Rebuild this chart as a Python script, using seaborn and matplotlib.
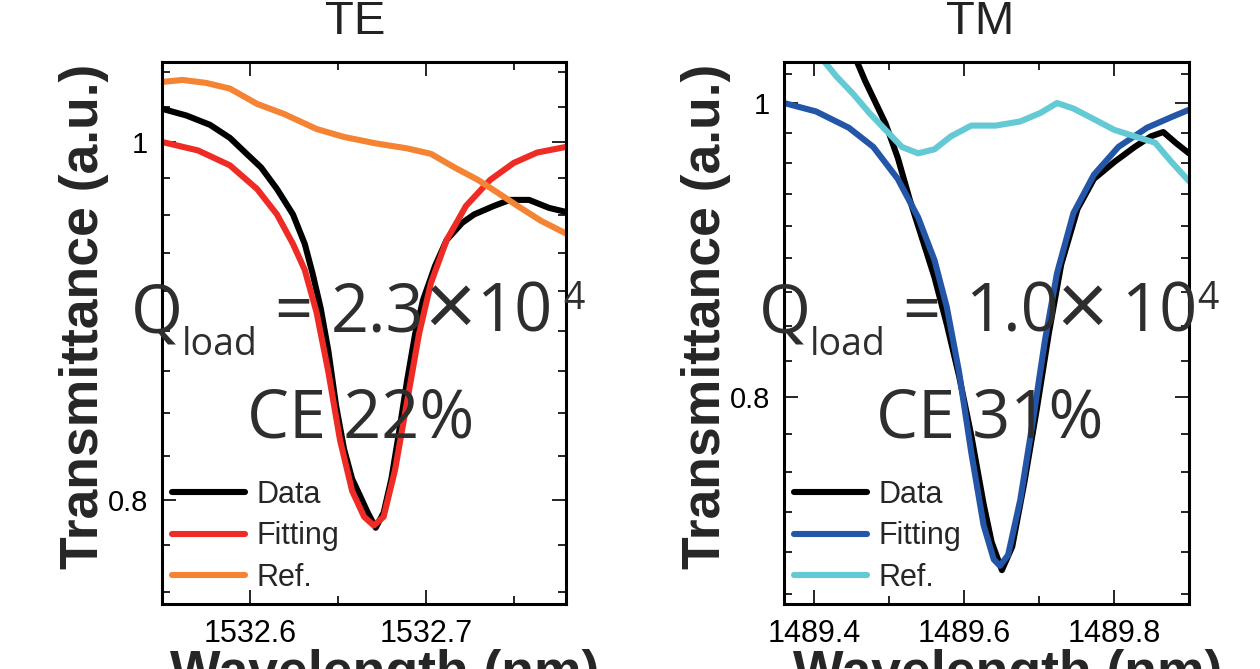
import matplotlib
matplotlib.use("Agg")
import matplotlib.pyplot as plt
import seaborn as sns
from matplotlib.ticker import FixedLocator, FixedFormatter, NullFormatter

# ---------------- data ----------------
te_wl_data = [1532.5500, 1532.5639, 1532.5773, 1532.5886, 1532.5975, 1532.6063, 1532.6153,
              1532.6244, 1532.6311, 1532.6356, 1532.6401, 1532.6445, 1532.6489, 1532.6534,
              1532.6580, 1532.6625, 1532.6669, 1532.6714, 1532.6759, 1532.6803, 1532.6847,
              1532.6892, 1532.6938, 1532.6983, 1532.7051, 1532.7117, 1532.7205, 1532.7273,
              1532.7386, 1532.7476, 1532.7585, 1532.7699, 1532.7795]
te_T_data = [1.0209, 1.0166, 1.0107, 1.0025, 0.9932, 0.9842, 0.9711, 0.9558, 0.9384, 0.9210,
             0.9017, 0.8779, 0.8483, 0.8258, 0.8105, 0.8020, 0.7936, 0.7862, 0.7936, 0.8105,
             0.8346, 0.8616, 0.8872, 0.9062, 0.9256, 0.9407, 0.9508, 0.9558, 0.9609, 0.9645,
             0.9645, 0.9597, 0.9573]

te_wl_fit = [1532.5500, 1532.5705, 1532.5886, 1532.6040, 1532.6153, 1532.6244, 1532.6311,
             1532.6378, 1532.6445, 1532.6511, 1532.6580, 1532.6648, 1532.6703, 1532.6759,
             1532.6824, 1532.6892, 1532.6960, 1532.7028, 1532.7117, 1532.7227, 1532.7364,
             1532.7498, 1532.7631, 1532.7795]
te_T_fit = [1.0000, 0.9947, 0.9855, 0.9711, 0.9558, 0.9384, 0.9233, 0.8992, 0.8664, 0.8305,
            0.8045, 0.7916, 0.7873, 0.7916, 0.8151, 0.8504, 0.8872, 0.9159, 0.9407, 0.9609,
            0.9766, 0.9870, 0.9934, 0.9969]

te_wl_ref = [1532.5500, 1532.5616, 1532.5750, 1532.5886, 1532.6040, 1532.6193, 1532.6378,
             1532.6534, 1532.6714, 1532.6892, 1532.7028, 1532.7162, 1532.7295, 1532.7409,
             1532.7520, 1532.7653, 1532.7795]
te_T_ref = [1.0381, 1.0394, 1.0375, 1.0338, 1.0240, 1.0176, 1.0081, 1.0031, 0.9991, 0.9960,
            0.9926, 0.9842, 0.9766, 0.9687, 0.9609, 0.9520, 0.9445]

tm_wl_data = [1489.4464, 1489.4572, 1489.4681, 1489.4817, 1489.4953, 1489.5117, 1489.5280,
              1489.5444, 1489.5607, 1489.5771, 1489.5933, 1489.6097, 1489.6261, 1489.6369,
              1489.6505, 1489.6643, 1489.6805, 1489.6969, 1489.7132, 1489.7296, 1489.7513,
              1489.7732, 1489.8004, 1489.8276, 1489.8493, 1489.8657, 1489.8821, 1489.9000]
tm_T_data = [1.0470, 1.0320, 1.0170, 1.0007, 0.9846, 0.9593, 0.9287, 0.9020, 0.8760, 0.8453,
             0.8131, 0.7770, 0.7377, 0.7165, 0.7015, 0.7141, 0.7498, 0.7923, 0.8399, 0.8846,
             0.9227, 0.9440, 0.9562, 0.9672, 0.9750, 0.9782, 0.9703, 0.9625]

tm_wl_fit = [1489.3600, 1489.4027, 1489.4464, 1489.4791, 1489.5117, 1489.5389, 1489.5607,
             1489.5771, 1489.5933, 1489.6097, 1489.6261, 1489.6397, 1489.6479, 1489.6588,
             1489.6751, 1489.6915, 1489.7077, 1489.7241, 1489.7459, 1489.7732, 1489.8059,
             1489.8440, 1489.8767, 1489.9000]
tm_T_fit = [1.0000, 0.9936, 0.9814, 0.9672, 0.9440, 0.9168, 0.8875, 0.8564, 0.8157, 0.7670,
            0.7259, 0.7072, 0.7038, 0.7096, 0.7401, 0.7846, 0.8345, 0.8790, 0.9198, 0.9470,
            0.9672, 0.9814, 0.9894, 0.9949]

tm_wl_ref = [1489.4136, 1489.4300, 1489.4517, 1489.4736, 1489.4953, 1489.5172, 1489.5389,
             1489.5607, 1489.5825, 1489.6097, 1489.6424, 1489.6751, 1489.7023, 1489.7241,
             1489.7459, 1489.7732, 1489.8004, 1489.8276, 1489.8548, 1489.8767, 1489.9000]
tm_T_ref = [1.0320, 1.0203, 1.0072, 0.9926, 0.9798, 0.9672, 0.9625, 0.9655, 0.9750, 0.9830,
            0.9830, 0.9861, 0.9926, 1.0000, 0.9958, 0.9878, 0.9798, 0.9750, 0.9703, 0.9562,
            0.9424]

series_labels = ["Data", "Fitting", "Ref."]
panel_titles = ["TE", "TM"]
q_mantissa = ["2.3", "1.0"]
ce_texts = ["CE 22%", "CE 31%"]
te_xticks = [1532.6, 1532.7]
tm_xticks = [1489.4, 1489.6, 1489.8]
te_xminor = [1532.65, 1532.75]
tm_xminor = [1489.5, 1489.7]
yticks = [0.8, 1.0]
ytick_labels = ["0.8", "1"]

# ---------------- style ----------------
sns.set_style("ticks")
plt.rcParams["font.family"] = ["Liberation Sans", "DejaVu Sans"]
plt.rcParams["lines.solid_capstyle"] = "round"

W, H = 1260, 669
fig = plt.figure(figsize=(W / 100, H / 100), dpi=100)
fig.patch.set_facecolor("white")


def px(x, y):
    return x / W, 1 - y / H


panels = [
    dict(rect=(162, 62, 566, 604), xlim=(1532.55, 1532.7795), ylim=(0.7497, 1.0511),
         data=(te_wl_data, te_T_data), fit=(te_wl_fit, te_T_fit), ref=(te_wl_ref, te_T_ref),
         colors=("#000000", "#EE2B25", "#F48334"), xt=te_xticks, xm=te_xminor,
         kmin=-11, kmax=2, dx=0, title_x=355,
         mx=331, xx=424, tx10=476, ex=563, cx=247),
    dict(rect=(784, 62, 1189, 604), xlim=(1489.36, 1489.90), ylim=(0.6837, 1.0316),
         data=(tm_wl_data, tm_T_data), fit=(tm_wl_fit, tm_T_fit), ref=(tm_wl_ref, tm_T_ref),
         colors=("#000000", "#2356A6", "#63C9D4"), xt=tm_xticks, xm=tm_xminor,
         kmin=-14, kmax=1, dx=628, title_x=980,
         mx=965, xx=1056, tx10=1121, ex=1197, cx=876),
]

step = 0.2 / 9
for i, p in enumerate(panels):
    x0, y0, x1, y1 = p["rect"]
    ax = fig.add_axes([x0 / W, 1 - y1 / H, (x1 - x0) / W, (y1 - y0) / H])
    for (xs, ys), col, lab in zip((p["data"], p["fit"], p["ref"]), p["colors"], series_labels):
        sns.lineplot(x=xs, y=ys, ax=ax, color=col, lw=4.4, label=lab, legend=False)
    ax.set_yscale("log")
    ax.set_xlim(*p["xlim"])
    ax.set_ylim(*p["ylim"])
    ax.yaxis.set_major_locator(FixedLocator(yticks))
    ax.yaxis.set_major_formatter(FixedFormatter(ytick_labels))
    minors = [1 + k * step for k in range(p["kmin"], p["kmax"] + 1) if k not in (0, -9)]
    ax.yaxis.set_minor_locator(FixedLocator(minors))
    ax.yaxis.set_minor_formatter(NullFormatter())
    ax.xaxis.set_major_locator(FixedLocator(p["xt"]))
    ax.xaxis.set_major_formatter(FixedFormatter([f"{v:.1f}" for v in p["xt"]]))
    ax.xaxis.set_minor_locator(FixedLocator(p["xm"]))
    ax.tick_params(which="both", direction="in", top=True, right=True, width=1.2, colors="black")
    ax.tick_params(which="major", length=10)
    ax.tick_params(which="minor", length=6)
    ax.tick_params(axis="x", which="major", labelsize=22, pad=11)
    ax.tick_params(axis="y", which="major", labelsize=21, pad=10)
    for s in ax.spines.values():
        s.set_linewidth(2.2)
        s.set_color("black")
    ax.set_xlabel("Wavelength (nm)", fontsize=38.5, fontweight="bold")
    ax.set_ylabel("Transmittance (a.u.)", fontsize=38.5, fontweight="bold")
    ax.xaxis.set_label_coords(0.552, -0.083)
    ax.yaxis.set_label_coords(-0.13, 0.53)
    ax.legend(loc="upper left", bbox_to_anchor=(0.025, 0.229), frameon=False, fontsize=22,
              handlelength=2.4, handletextpad=0.35, labelspacing=0.38, borderpad=0,
              borderaxespad=0)

    # title
    fig.text(*px(p["title_x"], 34), panel_titles[i], fontsize=34, color="#222222",
             ha="center", va="baseline")

    # annotation
    dx = p["dx"]
    tc = "#2e2e2e"
    af = ["Open Sans", "DejaVu Sans"]
    fig.text(*px(131 + dx, 332), "Q", fontsize=48, color=tc, family=af, va="baseline")
    fig.text(*px(182 + dx, 355), "load", fontsize=27, color=tc, family=af, va="baseline")
    fig.text(*px(274 + dx, 332), "=", fontsize=48, color=tc, family=af, va="baseline")
    fig.text(*px(p["mx"], 332), q_mantissa[i], fontsize=48, color=tc, family=af,
             va="baseline")
    fig.text(*px(p["xx"], 335), "×", fontsize=64, color=tc, fontweight="normal",
             family=["Lato", "Open Sans", "DejaVu Sans"], va="baseline")
    fig.text(*px(p["tx10"], 332), "10", fontsize=48, color=tc, family=af, va="baseline")
    fig.text(*px(p["ex"], 309), "4", fontsize=27, color=tc, family=af, va="baseline")
    fig.text(*px(p["cx"], 438), ce_texts[i], fontsize=48, color=tc, family=af,
             va="baseline")

fig.savefig("out.png", dpi=100, facecolor="white")
